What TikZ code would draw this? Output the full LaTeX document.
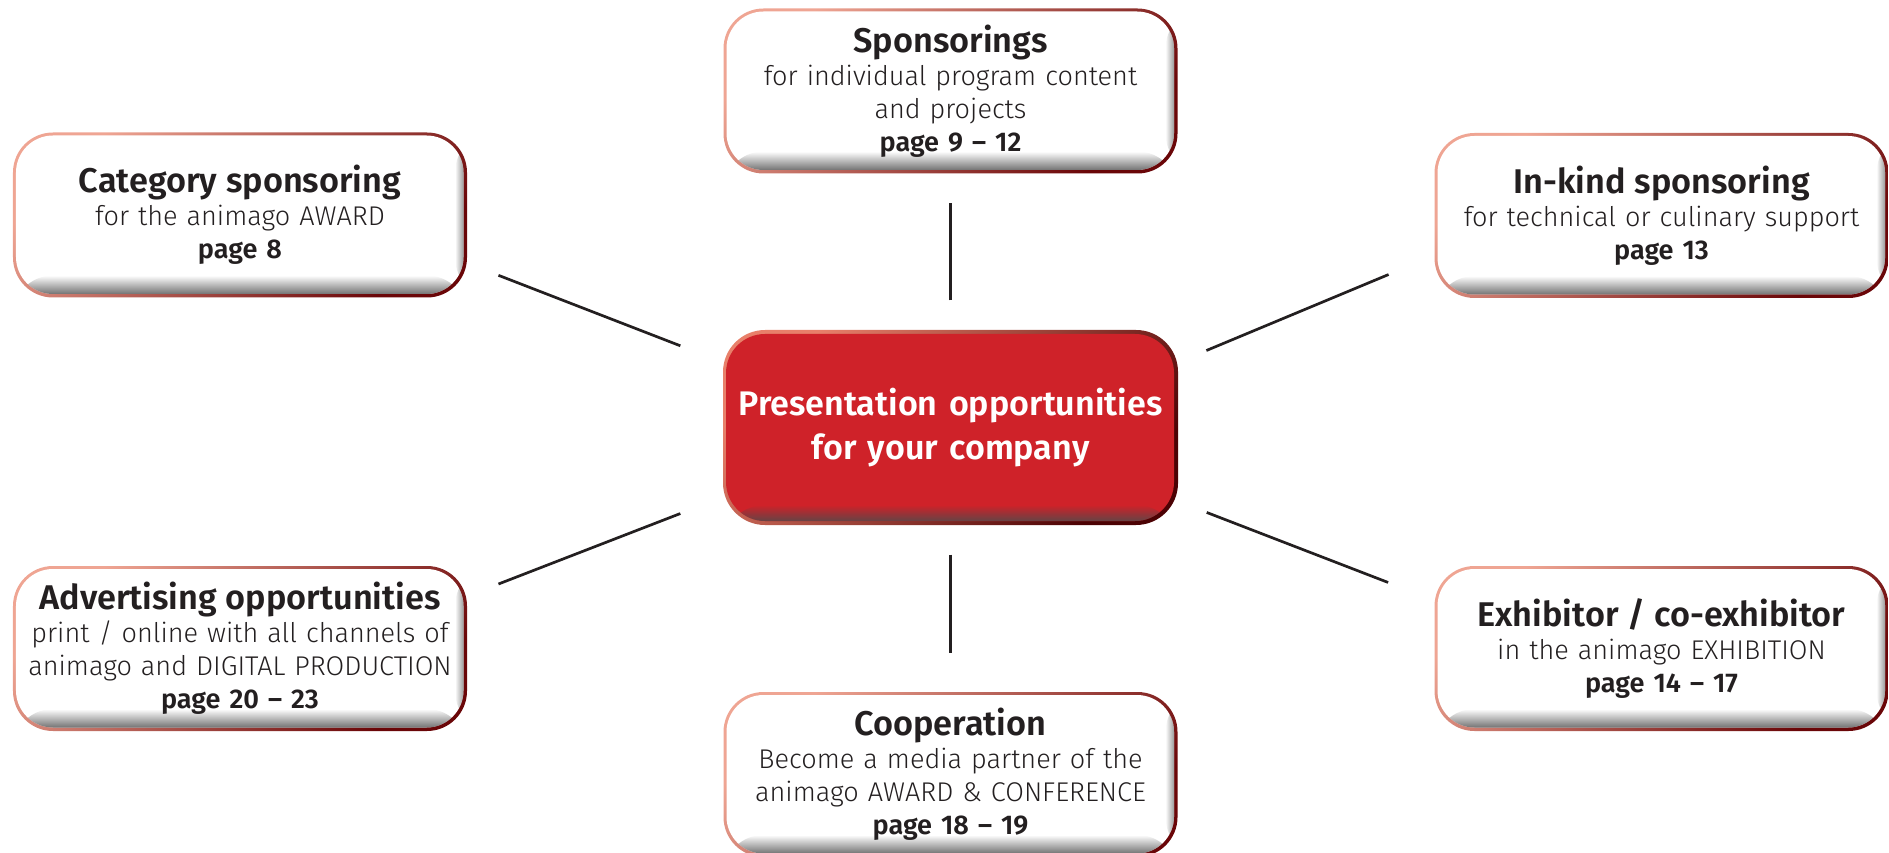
\documentclass[tikz,border=0pt]{standalone}
\usepackage{fontspec}
\setmainfont{Fira Sans}[UprightFont={* Light}, BoldFont={* SemiBold}]
\usepackage{xcolor}
\usepackage{tikz}
\usetikzlibrary{fadings}

\definecolor{ink}{HTML}{231F20}
\definecolor{rimlight}{HTML}{EFA593}
\definecolor{rimdark}{HTML}{6A0608}
\definecolor{hubred}{HTML}{CF2229}
\definecolor{hubrim}{HTML}{E8806A}
\definecolor{hubdark}{HTML}{4C0204}

\newcommand{\boxtitle}{\fontsize{9.75}{9.4}\selectfont\bfseries}
\newcommand{\boxpage}{\fontsize{7.7}{9.4}\selectfont\bfseries}

\tikzset{
  optbox/.style={rectangle, rounded corners=0.4cm, minimum width=4.54cm,
                 minimum height=1.65cm, text width=4.45cm, inner sep=0pt,
                 align=center, text=ink, font=\fontsize{7.7}{9.4}\selectfont,
                 top color=rimlight, bottom color=rimdark, shading angle=45,
                 path picture={
                   \begin{scope}
                     \clip[rounded corners=0.37cm]
                       ([shift={(0.03,-0.03)}]path picture bounding box.north west) rectangle
                       ([shift={(-0.035,0.035)}]path picture bounding box.south east);
                     \fill[white] (path picture bounding box.north west) rectangle
                       (path picture bounding box.south east);
                     \fill[black!55, path fading=west]
                       ([xshift=-0.12cm]path picture bounding box.north east) rectangle
                       (path picture bounding box.south east);
                     \fill[black!65, path fading=north]
                       ([yshift=0.22cm]path picture bounding box.south west) rectangle
                       (path picture bounding box.south east);
                   \end{scope}}},
  hubbox/.style={rectangle, rounded corners=0.42cm, minimum width=4.55cm,
                 minimum height=1.95cm, text width=4.45cm, inner sep=0pt,
                 align=center, text=white,
                 font=\fontsize{9.7}{12.6}\selectfont\bfseries,
                 top color=hubrim, bottom color=hubdark, shading angle=45,
                 path picture={
                   \begin{scope}
                     \clip[rounded corners=0.39cm]
                       ([shift={(0.03,-0.04)}]path picture bounding box.north west) rectangle
                       ([shift={(-0.04,0.04)}]path picture bounding box.south east);
                     \fill[hubred] (path picture bounding box.north west) rectangle
                       (path picture bounding box.south east);
                     \fill[black!70, path fading=north]
                       ([yshift=0.2cm]path picture bounding box.south west) rectangle
                       (path picture bounding box.south east);
                   \end{scope}}},
  spoke/.style={draw=ink, line width=0.027cm},
}

\begin{document}
\begin{tikzpicture}
  \useasboundingbox (0,0) rectangle (18.89,-8.52);

  \node[hubbox] (H) at (9.505,-4.275) {Presentation opportunities\\for your company};

  \node[optbox] (SP) at (9.505,-0.91)
    {{\boxtitle Sponsorings}\\for individual program content\\and projects\\{\boxpage page 9 -- 12}};
  \node[optbox] (CA) at (2.40,-2.15)
    {{\boxtitle Category sponsoring}\\for the animago AWARD\\{\boxpage page 8}};
  \node[optbox] (IK) at (16.615,-2.155)
    {{\boxtitle In-kind sponsoring}\\for technical or culinary support\\{\boxpage page 13}};
  \node[optbox] (AD) at (2.40,-6.485)
    {{\boxtitle Advertising opportunities}\\print / online with all channels of\\animago and DIGITAL PRODUCTION\\{\boxpage page 20 -- 23}};
  \node[optbox] (EX) at (16.615,-6.485)
    {{\boxtitle Exhibitor / co-exhibitor}\\in the animago EXHIBITION\\{\boxpage page 14 -- 17}};
  \node[optbox] (CO) at (9.505,-7.745)
    {{\boxtitle Cooperation}\\Become a media partner of the\\animago AWARD \& CONFERENCE\\{\boxpage page 18 -- 19}};

  \draw[spoke, shorten <=0.29cm, shorten >=0.29cm] (H.north) -- (SP.south);
  \draw[spoke, shorten <=0.29cm, shorten >=0.38cm] (H.south) -- (CO.north);
  \draw[spoke, shorten <=0.45cm, shorten >=0.33cm] (H.164.5) -- (CA.-12.35);
  \draw[spoke, shorten <=0.45cm, shorten >=0.33cm] (H.197) -- (AD.13);
  \draw[spoke, shorten <=0.30cm, shorten >=0.49cm] (H.16.7) -- (IK.190.8);
  \draw[spoke, shorten <=0.30cm, shorten >=0.49cm] (H.-18.3) -- (EX.168.4);
\end{tikzpicture}
\end{document}
